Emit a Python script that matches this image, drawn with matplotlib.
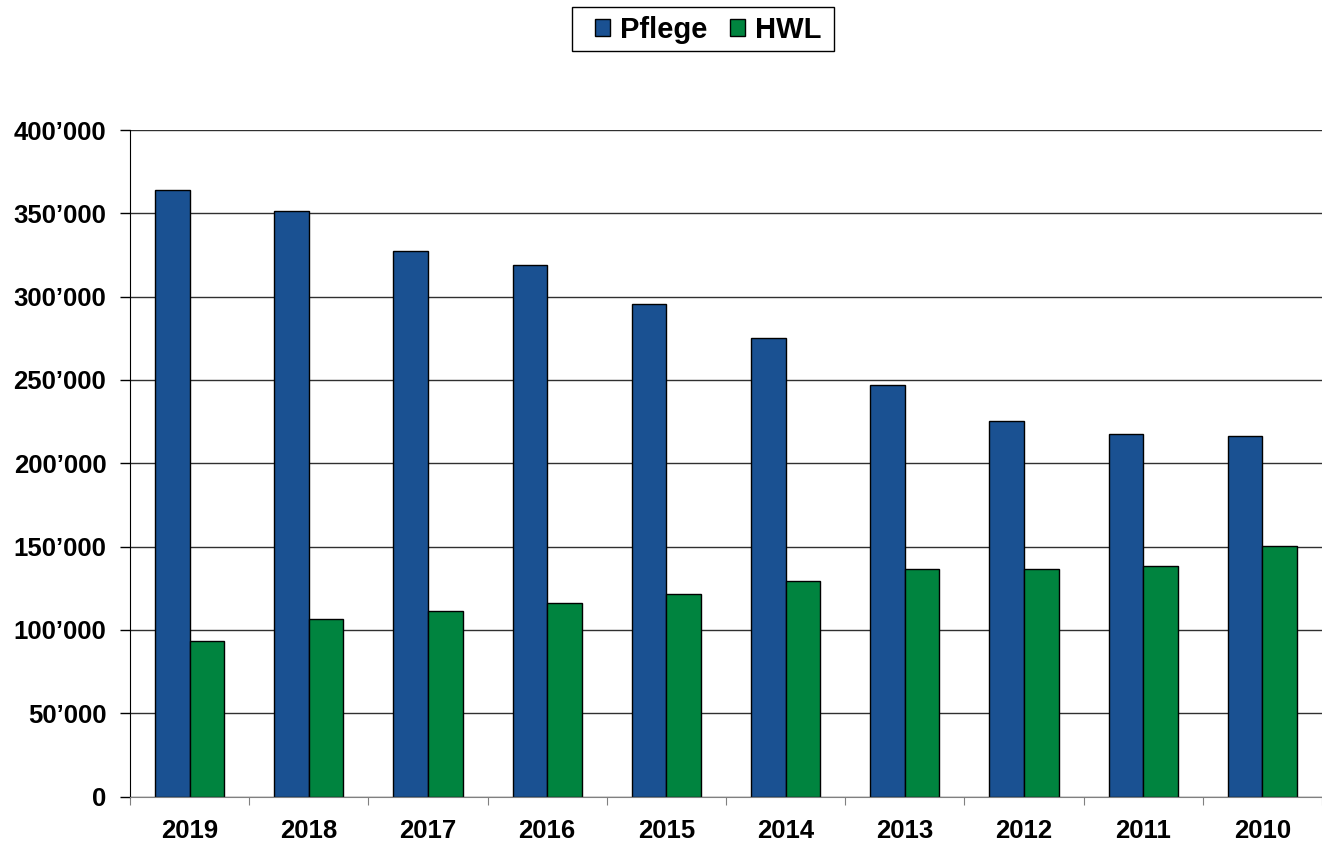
import numpy as np
import matplotlib.pyplot as plt
from matplotlib.ticker import FuncFormatter
from matplotlib.patches import Rectangle

plt.rcParams['font.family'] = ['Liberation Sans', 'DejaVu Sans']
plt.rcParams['font.weight'] = 'bold'

# --- Daten ---
jahre = ['2019', '2018', '2017', '2016', '2015', '2014', '2013', '2012', '2011', '2010']
pflege = [364000, 351300, 327300, 319200, 295500, 275200, 246800, 225500, 217400, 216600]
hwl = [93200, 106500, 111400, 116200, 121700, 129100, 136600, 136600, 138300, 150200]

farbe_pflege = '#1a5192'
farbe_hwl = '#00843f'

W, H = 1322, 841
fig = plt.figure(figsize=(W / 100, H / 100), dpi=100)
ax = fig.add_axes([0.0983, 0.0529, 0.9017, 0.7925])

x = np.arange(len(jahre))
b = 0.29
ax.bar(x - b / 2, pflege, width=b, color=farbe_pflege, edgecolor='black', linewidth=1, label='Pflege', zorder=3)
ax.bar(x + b / 2, hwl, width=b, color=farbe_hwl, edgecolor='black', linewidth=1, label='HWL', zorder=3)

ax.set_xlim(-0.5, len(jahre) - 0.5)
ax.set_ylim(0, 400000)
ax.set_yticks(np.arange(0, 400001, 50000))
ax.yaxis.set_major_formatter(FuncFormatter(lambda v, p: '0' if v == 0 else f"{int(v):,}".replace(',', '\u2019')))

# Kategorien: Beschriftung mittig, Striche dazwischen
ax.set_xticks(np.arange(-0.5, len(jahre), 1))
ax.set_xticklabels([])
ax.set_xticks(x, minor=True)
ax.set_xticklabels(jahre, minor=True)
ax.tick_params(axis='x', which='major', length=6, color='#808080', direction='out')
ax.tick_params(axis='x', which='minor', length=0, labelsize=18.5, pad=16)
ax.tick_params(axis='y', length=7, width=1, color='black', labelsize=18.5, pad=10)

ax.grid(axis='y', color='#303030', linewidth=1, zorder=0)
for s in ['top', 'right']:
    ax.spines[s].set_visible(False)
ax.spines['left'].set_color('black')
ax.spines['bottom'].set_color('#808080')
ax.spines['bottom'].set_zorder(4)

# Legende ohne eigenen Rahmen, Rahmen separat
leg = fig.legend(loc='center', bbox_to_anchor=(708.5 / W, 1 - 29.5 / H), ncol=2, fontsize=21,
                 frameon=False, handlelength=0.51, handleheight=0.51,
                 handletextpad=0.34, columnspacing=0.79, borderpad=0, borderaxespad=0)
fig.patches.append(Rectangle((572 / W, 1 - 51 / H), 262 / W, 44 / H, transform=fig.transFigure,
                             fill=False, edgecolor='black', linewidth=1))

fig.savefig('out.png', dpi=100)
